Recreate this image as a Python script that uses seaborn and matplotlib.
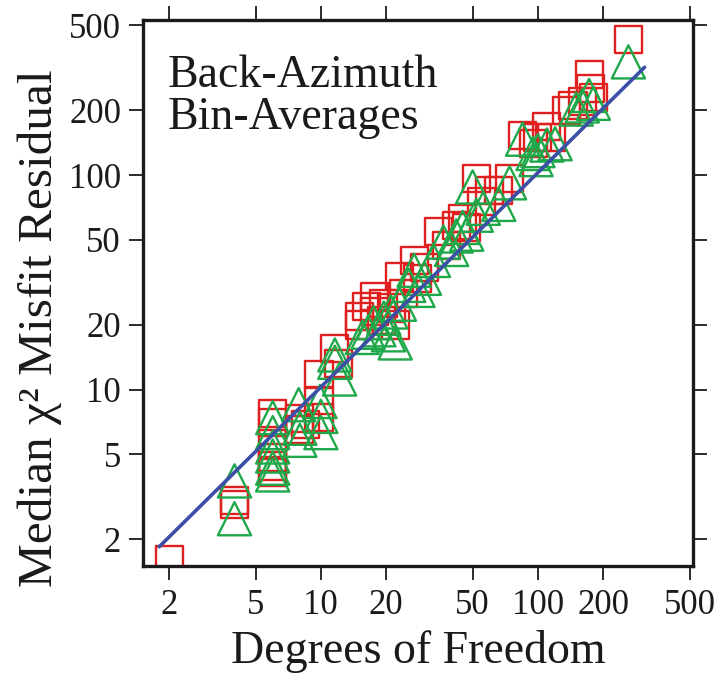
import numpy as np
import matplotlib
matplotlib.use("Agg")
import matplotlib.pyplot as plt
import seaborn as sns

# Back-azimuth bin averages: degrees of freedom vs. median chi-square misfit
dof_red = [2.0, 4.0, 4.0, 6.0, 6.0, 6.0, 6.0, 6.0, 6.0, 8.0, 8.0, 8.5,
           9.8, 9.8, 9.8, 11.6, 12.0, 15.0, 15.0, 16.2, 17.6, 17.6, 19.4,
           21.2, 19.0, 22.0, 23.1, 24.0, 26.9, 28.0, 30.0, 34.8, 38.0, 42.0,
           45.0, 47.0, 52.0, 55.0, 60.0, 66.0, 74.0, 85.0, 95.0, 100.0,
           110.0, 115.0, 135.0, 145.0, 160.0, 172.0, 175.0, 180.0, 261.0]
chi2_red = [1.62, 3.05, 2.90, 7.7, 7.0, 5.6, 4.8, 4.4, 4.1, 7.3, 6.5, 6.9,
            8.9, 7.4, 11.7, 15.5, 13.2, 21.9, 20.0, 24.5, 23.2, 27.2, 25.3,
            24.0, 21.0, 20.0, 33.7, 28.0, 40.0, 33.0, 37.0, 54.6, 47.0, 58.0,
            63.0, 57.0, 96.0, 75.0, 85.0, 85.0, 96.0, 153.0, 140.0, 150.0,
            168.0, 150.0, 200.0, 210.0, 220.0, 294.0, 252.0, 230.0, 427.0]

dof_green = [4.0, 4.0, 6.0, 6.0, 6.0, 6.0, 6.0, 6.0, 7.9, 8.0, 8.0, 9.9,
             10.0, 10.0, 11.6, 11.6, 12.2, 15.5, 16.5, 17.5, 18.5, 19.5,
             20.5, 21.0, 22.0, 23.0, 25.4, 26.9, 28.0, 30.0, 33.0, 36.7,
             40.0, 42.0, 45.0, 47.0, 50.0, 52.0, 56.0, 66.0, 74.0, 85.0,
             95.0, 98.0, 100.0, 110.0, 120.0, 150.0, 160.0, 172.0, 180.0,
             261.0]
chi2_green = [3.75, 2.5, 7.4, 6.3, 5.4, 4.9, 4.3, 4.0, 8.5, 6.6, 5.8, 8.8,
              7.5, 6.3, 14.5, 13.4, 11.2, 17.5, 18.5, 20.5, 19.0, 21.5,
              18.0, 23.0, 16.5, 25.0, 30.6, 36.0, 29.0, 33.0, 40.0, 48.7,
              45.0, 52.0, 57.0, 53.0, 88.0, 65.0, 70.0, 73.0, 92.0, 147.0,
              126.0, 118.0, 130.0, 138.0, 140.0, 203.0, 210.0, 235.0, 216.0,
              337.0]

# Reference trend line
fit_dof = [1.8, 310.0]
fit_chi2 = [1.85, 318.0]

tick_values = [2, 5, 10, 20, 50, 100, 200, 500]
tick_labels = ["2", "5", "10", "20", "50", "100", "200", "500"]

RED = "#e0201f"
GREEN = "#1fa84a"
BLUE = "#3b4fa6"
INK = "#1a1a1a"

sns.set_theme(style="ticks")
plt.rcParams["font.family"] = ["Liberation Serif", "DejaVu Serif"]

fig = plt.figure(figsize=(7.2, 6.79), dpi=100)
ax = fig.add_axes([0.199, 0.166, 0.764, 0.8045])

sns.scatterplot(x=dof_red, y=chi2_red, marker="s", s=380, color=RED,
                facecolor="none", edgecolor=RED, linewidth=1.7, ax=ax,
                zorder=2)
sns.scatterplot(x=dof_green, y=chi2_green, marker="^", s=570, color=GREEN,
                facecolor="none", edgecolor=GREEN, linewidth=1.7, ax=ax,
                zorder=3)
sns.lineplot(x=fit_dof, y=fit_chi2, color=BLUE, linewidth=2.6, ax=ax,
             zorder=4)

ax.set_xscale("log")
ax.set_yscale("log")
ax.set_xlim(1.52, 520)
ax.set_ylim(1.5, 528)
ax.set_xticks(tick_values)
ax.set_xticklabels(tick_labels)
ax.set_yticks(tick_values)
ax.set_yticklabels(tick_labels)
ax.minorticks_off()

ax.tick_params(axis="both", which="major", direction="out", length=10,
               width=1.3, color=INK, labelsize=25, labelcolor=INK,
               top=True, right=True, pad=6)

for side in ax.spines.values():
    side.set_visible(True)
    side.set_linewidth(2.4)
    side.set_color(INK)

ax.set_xlabel("Degrees of Freedom", fontsize=33, color=INK, labelpad=6)
ax.set_ylabel("Median χ² Misfit Residual", fontsize=35.5, color=INK)
ax.yaxis.set_label_coords(-0.148, 0.435)

ax.text(0.045, 0.878, "Back-Azimuth", transform=ax.transAxes,
        fontsize=33, color=INK, ha="left", va="baseline")
ax.text(0.045, 0.800, "Bin-Averages", transform=ax.transAxes,
        fontsize=33, color=INK, ha="left", va="baseline")

fig.savefig("out.png", dpi=100)
